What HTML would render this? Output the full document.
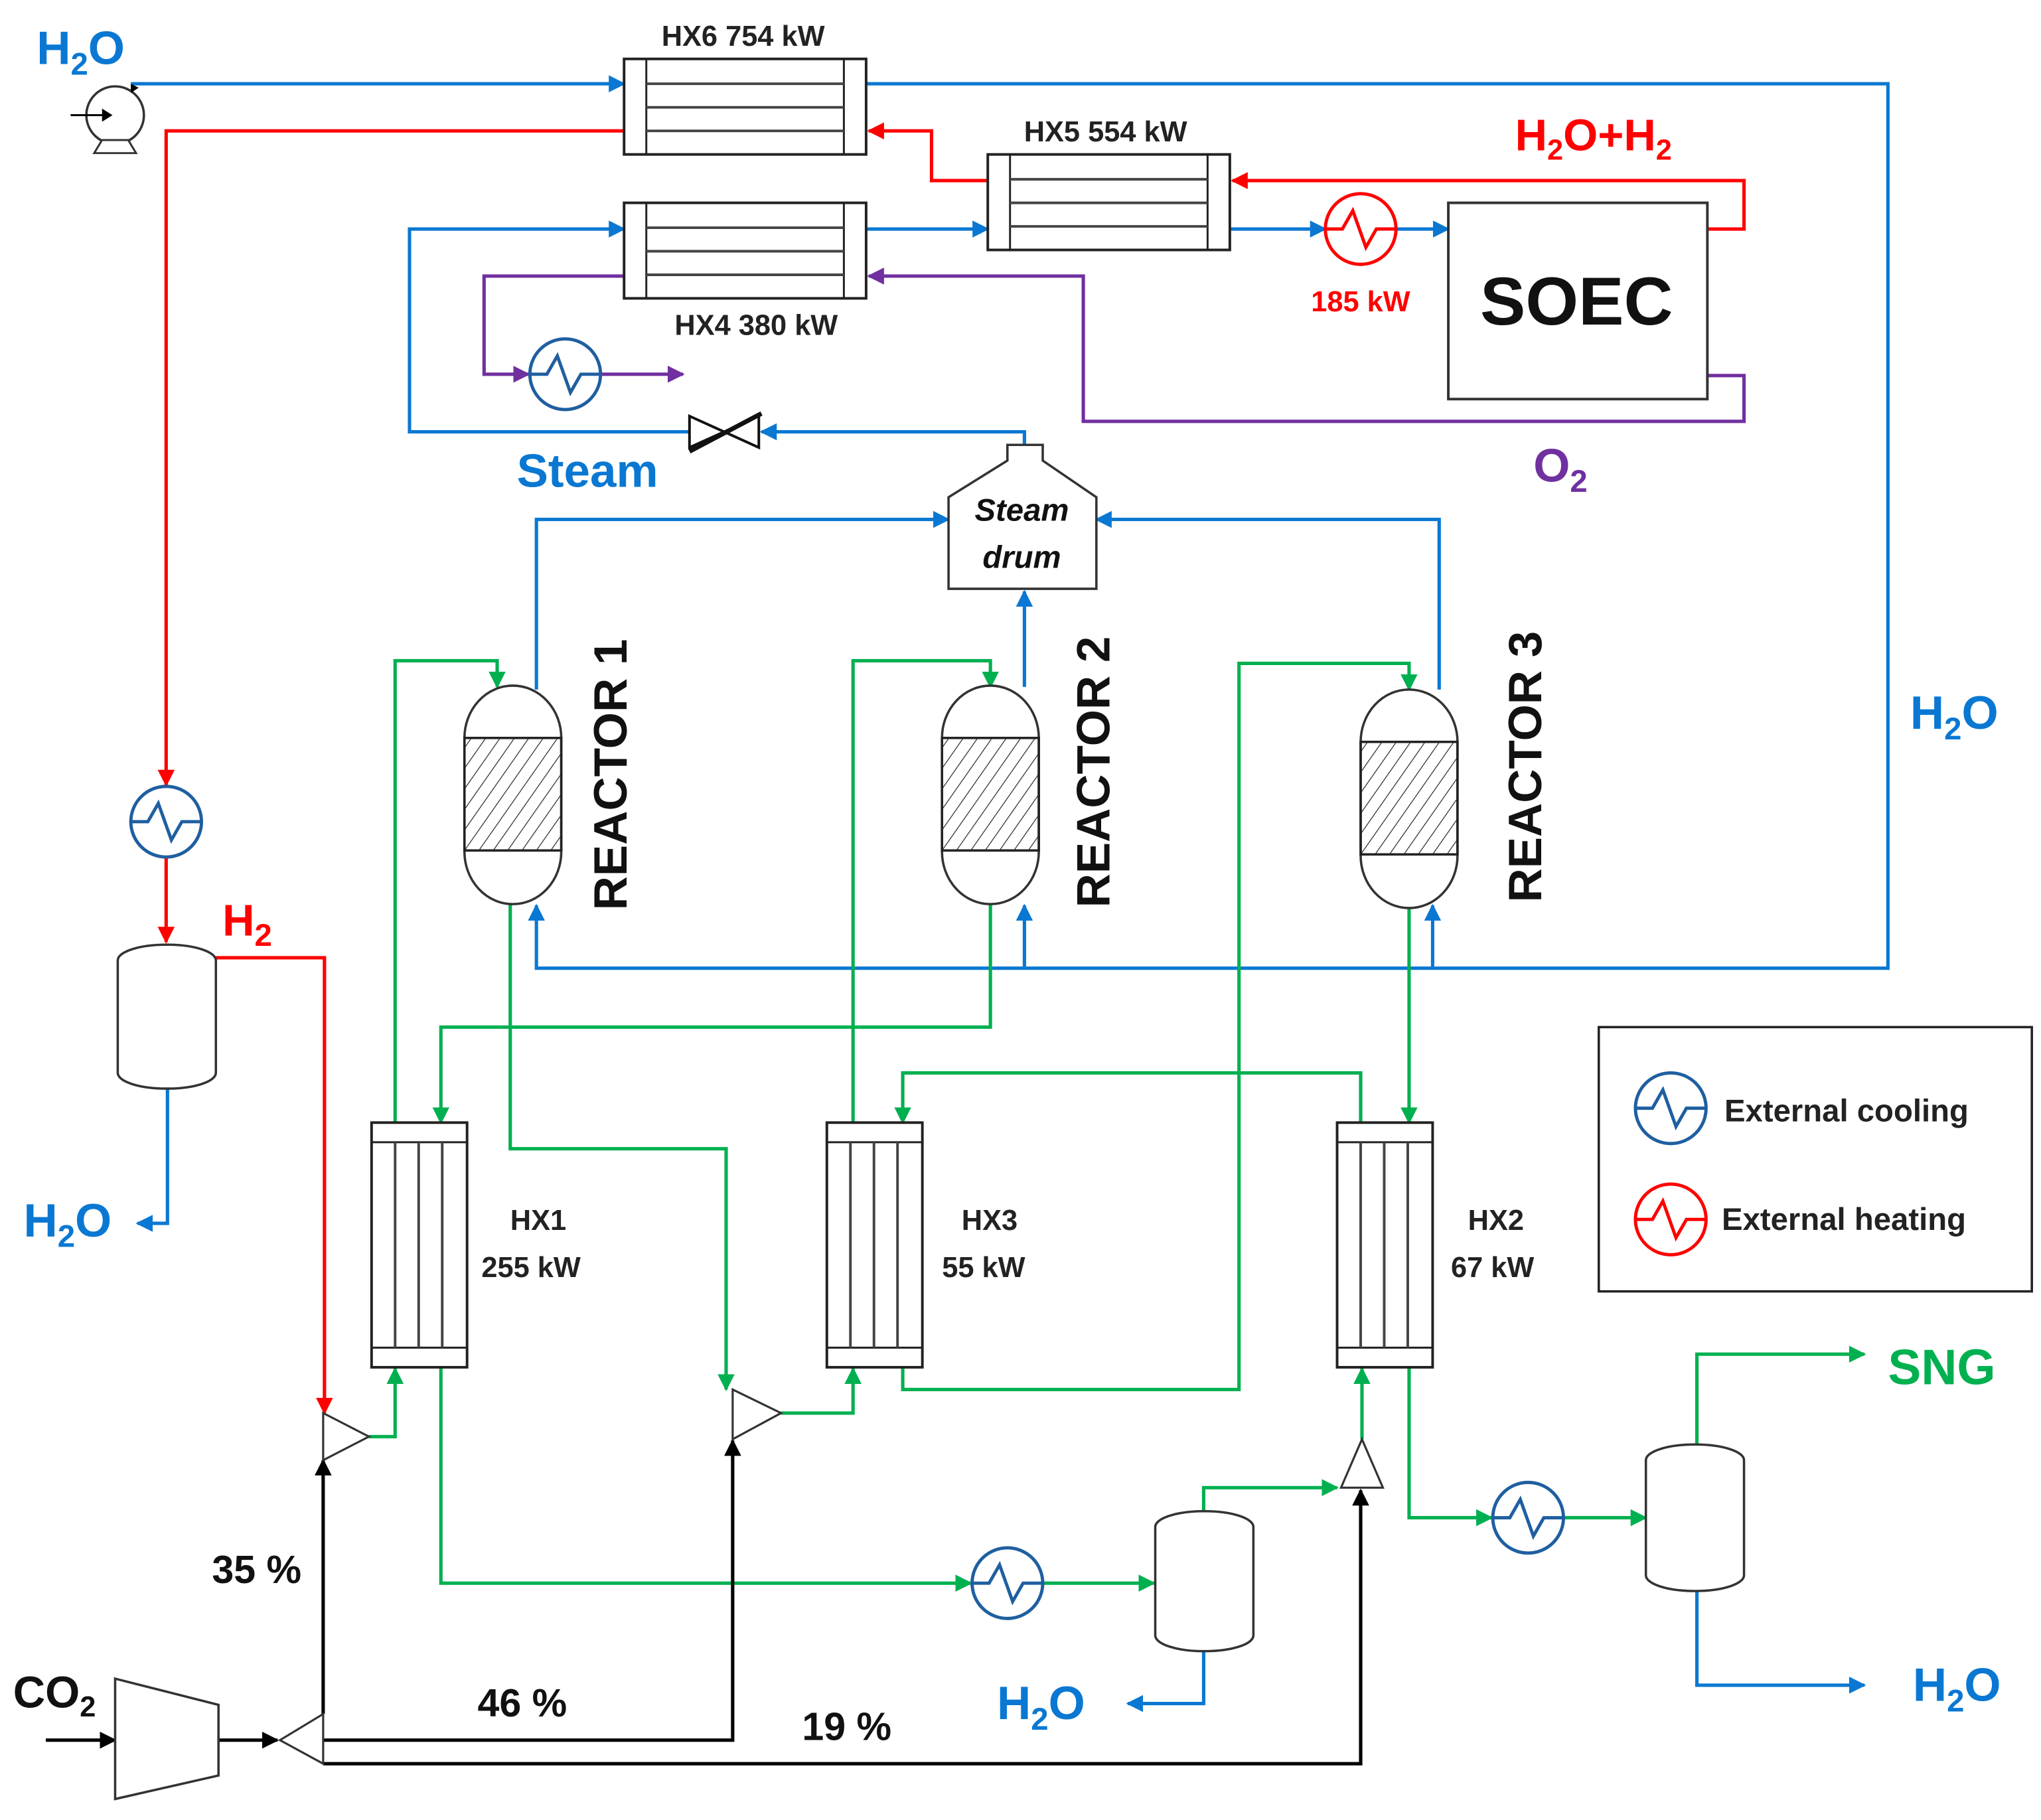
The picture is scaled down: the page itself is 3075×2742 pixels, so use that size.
<!DOCTYPE html>
<html><head><meta charset="utf-8"><style>
html,body{margin:0;padding:0;background:#fff;}
svg{display:block;}
text{font-family:"Liberation Sans",sans-serif;}
</style></head><body>
<svg width="3075" height="2742" viewBox="0 0 1560 1391" xmlns="http://www.w3.org/2000/svg">
<defs>
<marker id="ab" viewBox="0 0 10 10" refX="9" refY="5" markerWidth="5" markerHeight="5" orient="auto"><path d="M0,0L10,5L0,10z" fill="#0a78d2"/></marker>
<marker id="ar" viewBox="0 0 10 10" refX="9" refY="5" markerWidth="5" markerHeight="5" orient="auto"><path d="M0,0L10,5L0,10z" fill="#ff0000"/></marker>
<marker id="ag" viewBox="0 0 10 10" refX="9" refY="5" markerWidth="5" markerHeight="5" orient="auto"><path d="M0,0L10,5L0,10z" fill="#00b050"/></marker>
<marker id="ap" viewBox="0 0 10 10" refX="9" refY="5" markerWidth="5" markerHeight="5" orient="auto"><path d="M0,0L10,5L0,10z" fill="#7030a0"/></marker>
<marker id="ak" viewBox="0 0 10 10" refX="9" refY="5" markerWidth="5" markerHeight="5" orient="auto"><path d="M0,0L10,5L0,10z" fill="#000"/></marker>
<pattern id="hatch" width="9" height="9" patternUnits="userSpaceOnUse" patternTransform="rotate(35)"><line x1="0" y1="0" x2="0" y2="9" stroke="#222" stroke-width="1.2"/></pattern>
<g id="cool"><circle r="27" fill="#fff" stroke="#1f5fa0" stroke-width="2.5"/><path d="M-27,0 L-14,0 L-6,-14 L4,14 L12,0 L27,0" fill="none" stroke="#1f5fa0" stroke-width="2.5"/></g>
<g id="heat"><circle r="27" fill="#fff" stroke="#ff0000" stroke-width="2.5"/><path d="M-27,0 L-14,0 L-6,-14 L4,14 L12,0 L27,0" fill="none" stroke="#ff0000" stroke-width="2.5"/></g>
<g id="hxh"><rect x="0" y="0" width="185" height="73" fill="#fff" stroke="#222" stroke-width="2"/><line x1="17" y1="0" x2="17" y2="73" stroke="#222" stroke-width="1.5"/><line x1="168" y1="0" x2="168" y2="73" stroke="#222" stroke-width="1.5"/><line x1="17" y1="19" x2="168" y2="19" stroke="#444" stroke-width="2"/><line x1="17" y1="37" x2="168" y2="37" stroke="#444" stroke-width="2"/><line x1="17" y1="55" x2="168" y2="55" stroke="#444" stroke-width="2"/></g>
<g id="hxv"><rect x="0" y="0" width="73" height="187" fill="#fff" stroke="#222" stroke-width="2"/><line x1="0" y1="15" x2="73" y2="15" stroke="#222" stroke-width="1.5"/><line x1="0" y1="172" x2="73" y2="172" stroke="#222" stroke-width="1.5"/><line x1="18" y1="15" x2="18" y2="172" stroke="#444" stroke-width="2"/><line x1="36" y1="15" x2="36" y2="172" stroke="#444" stroke-width="2"/><line x1="54" y1="15" x2="54" y2="172" stroke="#444" stroke-width="2"/></g>
<g id="reac"><rect x="0" y="0" width="74" height="167" rx="37" ry="40" fill="#fff" stroke="#333" stroke-width="1.8"/><rect x="0" y="40" width="74" height="86" fill="url(#hatch)" stroke="#222" stroke-width="1.8"/></g>
</defs>

<g fill="none" stroke-width="2.6">
<!-- blue -->
<path d="M100,64 H477" stroke="#0a78d2" marker-end="url(#ab)"/>
<path d="M662,64 H1443 V740 H410 V692" stroke="#0a78d2" marker-end="url(#ab)"/>
<path d="M783,740 V692" stroke="#0a78d2" marker-end="url(#ab)"/>
<path d="M1095,740 V692" stroke="#0a78d2" marker-end="url(#ab)"/>
<path d="M783,340 V330 H582" stroke="#0a78d2" marker-end="url(#ab)"/>
<path d="M527,330 H313 V175 H477" stroke="#0a78d2" marker-end="url(#ab)"/>
<path d="M662,175 H755" stroke="#0a78d2" marker-end="url(#ab)"/>
<path d="M940,175 H1013" stroke="#0a78d2" marker-end="url(#ab)"/>
<path d="M1067,175 H1107" stroke="#0a78d2" marker-end="url(#ab)"/>
<path d="M410,527 V397 H725" stroke="#0a78d2" marker-end="url(#ab)"/>
<path d="M1100,527 V397 H838" stroke="#0a78d2" marker-end="url(#ab)"/>
<path d="M783,525 V452" stroke="#0a78d2" marker-end="url(#ab)"/>
<path d="M128,830 V935 H105" stroke="#0a78d2" marker-end="url(#ab)"/>
<path d="M920,1260 V1302 H862" stroke="#0a78d2" marker-end="url(#ab)"/>
<path d="M1297,1215 V1288 H1425" stroke="#0a78d2" marker-end="url(#ab)"/>
<!-- red -->
<path d="M477,100 H127 V600" stroke="#ff0000" marker-end="url(#ar)"/>
<path d="M127,655 V720" stroke="#ff0000" marker-end="url(#ar)"/>
<path d="M755,138 H712 V100 H664" stroke="#ff0000" marker-end="url(#ar)"/>
<path d="M1305,175 H1333 V138 H942" stroke="#ff0000" marker-end="url(#ar)"/>
<path d="M165,732 H248 V1080" stroke="#ff0000" marker-end="url(#ar)"/>
<!-- purple -->
<path d="M1305,287 H1333 V322 H828 V211 H664" stroke="#7030a0" marker-end="url(#ap)"/>
<path d="M477,211 H370 V286 H404" stroke="#7030a0" marker-end="url(#ap)"/>
<path d="M459,286 H522" stroke="#7030a0" marker-end="url(#ap)"/>
<!-- green -->
<path d="M302,858 V505 H380 V525" stroke="#00b050" marker-end="url(#ag)"/>
<path d="M282,1098 H302 V1046" stroke="#00b050" marker-end="url(#ag)"/>
<path d="M390,690 V878 H555 V1062" stroke="#00b050" marker-end="url(#ag)"/>
<path d="M757,690 V785 H337 V858" stroke="#00b050" marker-end="url(#ag)"/>
<path d="M337,1045 V1210 H742" stroke="#00b050" marker-end="url(#ag)"/>
<path d="M797,1210 H882" stroke="#00b050" marker-end="url(#ag)"/>
<path d="M597,1080 H652 V1046" stroke="#00b050" marker-end="url(#ag)"/>
<path d="M652,858 V505 H757 V525" stroke="#00b050" marker-end="url(#ag)"/>
<path d="M1077,690 V858" stroke="#00b050" marker-end="url(#ag)"/>
<path d="M1040,858 V820 H690 V858" stroke="#00b050" marker-end="url(#ag)"/>
<path d="M690,1045 V1062 H947 V507 H1077 V527" stroke="#00b050" marker-end="url(#ag)"/>
<path d="M920,1157 V1137 H1022" stroke="#00b050" marker-end="url(#ag)"/>
<path d="M1041,1100 V1046" stroke="#00b050" marker-end="url(#ag)"/>
<path d="M1077,1045 V1160 H1140" stroke="#00b050" marker-end="url(#ag)"/>
<path d="M1195,1160 H1258" stroke="#00b050" marker-end="url(#ag)"/>
<path d="M1297,1105 V1035 H1425" stroke="#00b050" marker-end="url(#ag)"/>
<!-- black -->
<path d="M35,1330 H88" stroke="#000" marker-end="url(#ak)"/>
<path d="M167,1330 H212" stroke="#000" marker-end="url(#ak)"/>
<path d="M247,1310 V1116" stroke="#000" marker-end="url(#ak)"/>
<path d="M247,1330 H560 V1101" stroke="#000" marker-end="url(#ak)"/>
<path d="M247,1348 H1040 V1139" stroke="#000" marker-end="url(#ak)"/>
</g>

<!-- pump -->
<circle cx="88" cy="88" r="22" fill="#fff" stroke="#333" stroke-width="1.8"/>
<path d="M72,117 L78,107 L98,107 L104,117 Z" fill="#fff" stroke="#333" stroke-width="1.5"/>
<path d="M54,88 H80" stroke="#000" stroke-width="1.5"/><path d="M78,83 L86,88 L78,93Z" fill="#000"/>
<path d="M100,64 L106,67 L100,71Z" fill="#000"/>

<use href="#hxh" x="477" y="45"/>
<use href="#hxh" x="755" y="118"/>
<use href="#hxh" x="477" y="155"/>
<use href="#heat" x="1040" y="175"/>
<use href="#cool" x="432" y="286"/>
<use href="#cool" x="127" y="628"/>
<use href="#cool" x="770" y="1210"/>
<use href="#cool" x="1168" y="1160"/>
<rect x="1107" y="155" width="198" height="150" fill="#fff" stroke="#333" stroke-width="2"/>

<!-- valve -->
<path d="M527,318 L580,342 L580,318 L527,342 Z" fill="#fff" stroke="#111" stroke-width="2"/>
<line x1="527" y1="345" x2="582" y2="316" stroke="#111" stroke-width="3.5"/>

<!-- steam drum -->
<path d="M770,352 V340 H797 V352 L838,380 V450 H725 V380 Z" fill="#fff" stroke="#333" stroke-width="1.8"/>

<use href="#reac" x="355" y="524"/>
<use href="#reac" x="720" y="524"/>
<use href="#reac" x="1040" y="527"/>

<use href="#hxv" x="284" y="858"/>
<use href="#hxv" x="632" y="858"/>
<use href="#hxv" x="1022" y="858"/>

<!-- separators -->
<rect x="90" y="722" width="75" height="110" rx="37" ry="12" fill="#fff" stroke="#333" stroke-width="1.8"/>
<rect x="883" y="1155" width="75" height="107" rx="37" ry="12" fill="#fff" stroke="#333" stroke-width="1.8"/>
<rect x="1258" y="1104" width="75" height="112" rx="37" ry="12" fill="#fff" stroke="#333" stroke-width="1.8"/>

<!-- mixers -->
<path d="M247,1080 L247,1116 L282,1098Z" fill="#fff" stroke="#333" stroke-width="1.6"/>
<path d="M560,1062 L560,1100 L597,1080Z" fill="#fff" stroke="#333" stroke-width="1.6"/>
<path d="M1025,1137 L1057,1137 L1041,1100Z" fill="#fff" stroke="#333" stroke-width="1.6"/>
<path d="M214,1330 L247,1310 L247,1348Z" fill="#fff" stroke="#333" stroke-width="1.6"/>
<path d="M88,1283 L167,1303 L167,1357 L88,1375Z" fill="#fff" stroke="#333" stroke-width="1.8"/>

<!-- legend -->
<rect x="1222" y="785" width="331" height="202" fill="#fff" stroke="#222" stroke-width="1.8"/>
<use href="#cool" x="1277" y="847"/>
<use href="#heat" x="1277" y="932"/>

<!-- text -->
<g font-weight="bold">
<text x="28" y="49" font-size="36" fill="#0a78d2">H<tspan font-size="24" dy="8">2</tspan><tspan dy="-8">O</tspan></text>
<text x="568" y="35" font-size="22" text-anchor="middle" fill="#222">HX6 754 kW</text>
<text x="845" y="108" font-size="22" text-anchor="middle" fill="#222">HX5 554 kW</text>
<text x="578" y="256" font-size="22" text-anchor="middle" fill="#222">HX4 380 kW</text>
<text x="1158" y="115" font-size="34" fill="#ff0000">H<tspan font-size="22" dy="7">2</tspan><tspan dy="-7">O+H</tspan><tspan font-size="22" dy="7">2</tspan></text>
<text x="1040" y="238" font-size="22" text-anchor="middle" fill="#ff0000">185 kW</text>
<text x="1205" y="248" font-size="52" text-anchor="middle" fill="#111">SOEC</text>
<text x="395" y="372" font-size="36" fill="#0a78d2">Steam</text>
<text x="1172" y="368" font-size="36" fill="#7030a0">O<tspan font-size="24" dy="8">2</tspan></text>
<text x="781" y="398" font-size="24" text-anchor="middle" font-style="italic" fill="#111">Steam</text>
<text x="781" y="434" font-size="24" text-anchor="middle" font-style="italic" fill="#111">drum</text>
<text transform="translate(479,592) rotate(-90)" font-size="36" text-anchor="middle" fill="#111">REACTOR 1</text>
<text transform="translate(848,590) rotate(-90)" font-size="36" text-anchor="middle" fill="#111">REACTOR 2</text>
<text transform="translate(1178,586) rotate(-90)" font-size="36" text-anchor="middle" fill="#111">REACTOR 3</text>
<text x="1460" y="557" font-size="36" fill="#0a78d2">H<tspan font-size="24" dy="8">2</tspan><tspan dy="-8">O</tspan></text>
<text x="170" y="715" font-size="34" fill="#ff0000">H<tspan font-size="24" dy="8">2</tspan></text>
<text x="18" y="945" font-size="36" fill="#0a78d2">H<tspan font-size="24" dy="8">2</tspan><tspan dy="-8">O</tspan></text>
<text x="390" y="940" font-size="22" fill="#222">HX1</text>
<text x="368" y="976" font-size="22" fill="#222">255 kW</text>
<text x="735" y="940" font-size="22" fill="#222">HX3</text>
<text x="720" y="976" font-size="22" fill="#222">55 kW</text>
<text x="1122" y="940" font-size="22" fill="#222">HX2</text>
<text x="1109" y="976" font-size="22" fill="#222">67 kW</text>
<text x="1318" y="857" font-size="24" fill="#222">External cooling</text>
<text x="1316" y="940" font-size="24" fill="#222">External heating</text>
<text x="1443" y="1058" font-size="38" fill="#00b050">SNG</text>
<text x="1462" y="1300" font-size="36" fill="#0a78d2">H<tspan font-size="24" dy="8">2</tspan><tspan dy="-8">O</tspan></text>
<text x="762" y="1314" font-size="36" fill="#0a78d2">H<tspan font-size="24" dy="8">2</tspan><tspan dy="-8">O</tspan></text>
<text x="10" y="1305" font-size="34" fill="#111">CO<tspan font-size="22" dy="7">2</tspan></text>
<text x="162" y="1210" font-size="30" fill="#111">35 %</text>
<text x="365" y="1312" font-size="30" fill="#111">46 %</text>
<text x="613" y="1330" font-size="30" fill="#111">19 %</text>
</g>
</svg>
</body></html>
